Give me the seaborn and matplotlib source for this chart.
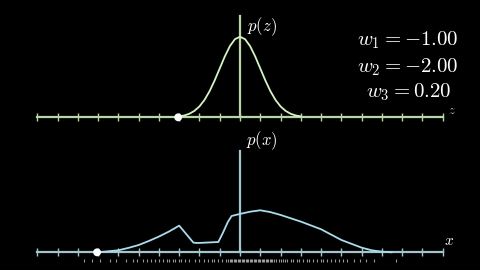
import matplotlib
matplotlib.use("Agg")
import matplotlib.pyplot as plt
import seaborn as sns
import pandas as pd

# ---------------- data ----------------
z_vals = [-3.0, -2.75, -2.5, -2.25, -2.0, -1.75, -1.5, -1.25, -1.0, -0.75, -0.5, -0.25,
          0.0, 0.25, 0.5, 0.75, 1.0, 1.25, 1.5, 1.75, 2.0, 2.25, 2.5, 2.75, 3.0]
pz_vals = [0.0044, 0.0091, 0.0175, 0.0317, 0.0540, 0.0863, 0.1295, 0.1826, 0.2420, 0.3011,
           0.3521, 0.3867, 0.3989, 0.3867, 0.3521, 0.3011, 0.2420, 0.1826, 0.1295, 0.0863,
           0.0540, 0.0317, 0.0175, 0.0091, 0.0044]

x_vals = [-7.0, -6.5, -6.0, -5.5, -5.0, -4.5, -4.0, -3.5, -3.0, -2.3, -2.1, -1.07, -0.85,
          -0.6, -0.41, 0.0, 0.5, 1.0, 1.5, 2.0, 3.0, 4.0, 5.0, 5.5, 6.0, 6.5, 7.0, 7.5]
px_vals = [0.0, 0.005, 0.010, 0.022, 0.036, 0.056, 0.078, 0.103, 0.132, 0.048, 0.046, 0.051,
           0.095, 0.150, 0.180, 0.190, 0.201, 0.208, 0.199, 0.185, 0.152, 0.114, 0.061, 0.042,
           0.023, 0.010, 0.003, 0.0]

z_point = -3.05
x_point = -7.05

rug_samples = [-7.7, -7.3, -6.9, -6.4, -6.1, -5.6, -5.3, -5.1, -4.8, -4.6, -4.4, -4.2, -4.0,
               -3.8, -3.6, -3.5, -3.3, -3.2, -3.0, -2.9, -2.7, -2.5, -2.2, -2.0, -1.8, -1.6,
               -1.4, -1.3, -1.1, -0.9, -0.7, -0.6, -0.5, -0.45, -0.4, -0.3, -0.25, -0.2,
               -0.1, -0.05, 0.0, 0.1, 0.15, 0.2, 0.3, 0.35, 0.4, 0.5, 0.55, 0.6, 0.7, 0.75,
               0.8, 0.9, 0.95, 1.0, 1.1, 1.15, 1.2, 1.3, 1.35, 1.4, 1.5, 1.55, 1.6, 1.7, 1.8,
               1.9, 2.0, 2.1, 2.2, 2.3, 2.5, 2.6, 2.8, 2.9, 3.1, 3.3, 3.4, 3.6, 3.8, 4.0,
               4.1, 4.3, 4.5, 4.7, 4.9, 5.1, 5.3, 5.6, 5.9, 6.2, 6.6, 7.7]

tick_positions = list(range(-10, 11))
weight_labels = ["$w_1 = -1.00$", "$w_2 = -2.00$", "$w_3 = 0.20$"]

# ---------------- style ----------------
sns.set_theme(style="dark")
plt.rcParams["mathtext.fontset"] = "cm"
plt.rcParams["font.family"] = ["DejaVu Serif"]

TOP_CURVE = "#d6f3c4"
TOP_AXIS = "#b8d6a8"
BOT_CURVE = "#a9dcec"
BOT_AXIS = "#a3c4cc"

fig = plt.figure(figsize=(4.8, 2.7), dpi=100, facecolor="black")
ax_top = fig.add_axes([0, 0.5, 1, 0.5])
ax_bot = fig.add_axes([0, 0.0, 1, 0.5])

XL = (-11.84, 11.84)
YL = (-0.0876, 0.5807)


def setup(ax, col):
    ax.set_facecolor("black")
    ax.set_xlim(*XL)
    ax.set_ylim(*YL)
    ax.grid(False)
    for s in ["top", "right"]:
        ax.spines[s].set_visible(False)
    ax.spines["bottom"].set_position(("data", 0))
    ax.spines["bottom"].set_bounds(-10, 10)
    ax.spines["bottom"].set_color(col)
    ax.spines["bottom"].set_linewidth(1.6)
    ax.spines["left"].set_position(("data", 0))
    ax.spines["left"].set_bounds(0, 0.5)
    ax.spines["left"].set_color(col)
    ax.spines["left"].set_linewidth(1.6)
    ax.set_xticks(tick_positions)
    ax.set_xticklabels([])
    ax.set_yticks([])
    ax.tick_params(axis="x", direction="inout", length=6, width=1.0, color=col,
                   bottom=True, labelbottom=False)


df_z = pd.DataFrame({"z": z_vals, "p": pz_vals})
df_x = pd.DataFrame({"x": x_vals, "p": px_vals})

setup(ax_top, TOP_AXIS)
sns.lineplot(data=df_z, x="z", y="p", ax=ax_top, color=TOP_CURVE, linewidth=1.3, zorder=3)
sns.scatterplot(x=[z_point], y=[0], ax=ax_top, color="white", s=32, edgecolor="none", zorder=5)

setup(ax_bot, BOT_AXIS)
sns.lineplot(data=df_x, x="x", y="p", ax=ax_bot, color=BOT_CURVE, linewidth=1.3, zorder=3)
sns.scatterplot(x=[x_point], y=[0], ax=ax_bot, color="white", s=32, edgecolor="none", zorder=5)
ax_bot.vlines(rug_samples, -0.046, -0.031, color="white", alpha=0.6, linewidth=0.8)

for ax in (ax_top, ax_bot):
    ax.set_xlabel("")
    ax.set_ylabel("")

# labels (figure pixel positions)
def ftext(px, py, s, **kw):
    fig.text(px / 480, 1 - py / 270, s, ha="center", va="center", **kw)

ftext(262, 27, "$p(z)$", color="white", fontsize=12)
ftext(262, 141, "$p(x)$", color="white", fontsize=12)
ftext(452, 110, "$z$", color="#bbbbbb", fontsize=9)
ftext(449, 241, "$x$", color="white", fontsize=11)
ftext(408, 40, weight_labels[0], color="white", fontsize=15)
ftext(408, 67, weight_labels[1], color="white", fontsize=15)
ftext(409, 92, weight_labels[2], color="white", fontsize=15)

fig.savefig("out.png", dpi=100, facecolor="black")
